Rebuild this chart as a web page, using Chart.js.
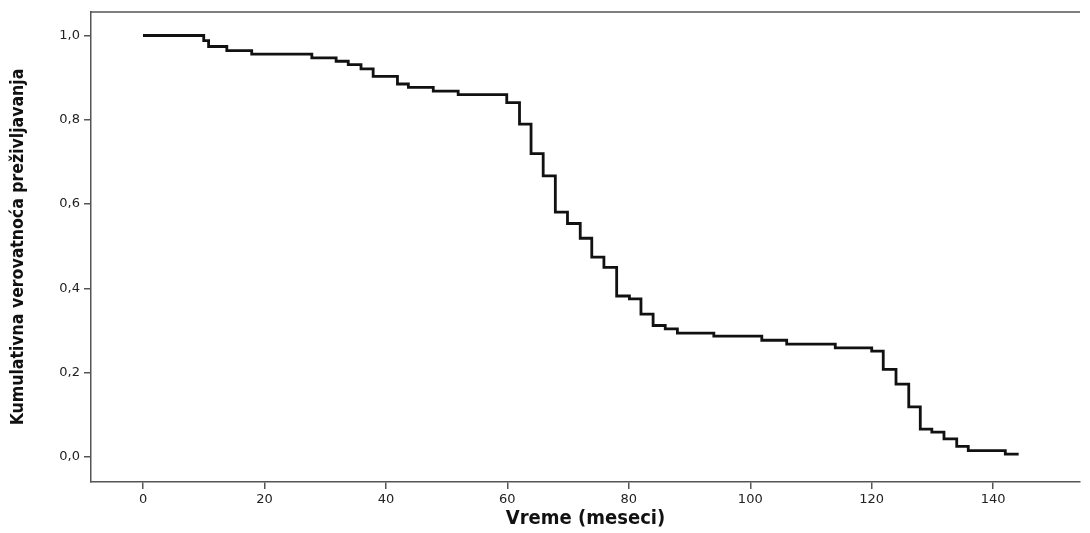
<!DOCTYPE html>
<html lang="sr">
<head>
<meta charset="UTF-8">
<title>Kaplan-Meier</title>
<script src="https://cdn.jsdelivr.net/npm/chart.js@4.4.0/dist/chart.umd.min.js"></script>
<style>
  html, body { margin: 0; padding: 0; background: #fff; }
  #wrap { width: 1090px; height: 533px; }
</style>
</head>
<body>
<div id="wrap"><canvas id="km"></canvas></div>
<script>
// vreme (meseci) kada kriva pada, i kumulativno prezivljavanje posle pada
const times = [0, 10.0, 10.8, 13.8, 17.9, 27.8, 31.8, 33.8, 35.9, 37.9, 41.9, 43.7, 47.8, 51.9,
  59.9, 62.0, 63.9, 65.9, 67.9, 69.9, 72.0, 73.9, 75.9, 78.0, 80.1, 82.0, 84.0, 86.0, 88.0,
  94.0, 101.9, 106.0, 114.0, 120.0, 121.9, 124.0, 126.1, 128.0, 129.9, 131.9, 134.0, 135.9, 142.0, 144.2];
const survival = [1.0, 0.988, 0.974, 0.964, 0.956, 0.947, 0.939, 0.931, 0.921, 0.903, 0.885, 0.877, 0.868, 0.860,
  0.841, 0.790, 0.720, 0.667, 0.581, 0.554, 0.519, 0.474, 0.450, 0.382, 0.375, 0.339, 0.312, 0.304, 0.294,
  0.287, 0.277, 0.268, 0.259, 0.251, 0.208, 0.173, 0.119, 0.066, 0.059, 0.043, 0.025, 0.015, 0.007, 0.007];
const xTicks = [0, 20, 40, 60, 80, 100, 120, 140];
const yTicks = [0, 0.2, 0.4, 0.6, 0.8, 1.0];

const points = times.map((t, i) => ({ x: t, y: survival[i] }));

// gornja linija okvira
const topBorder = {
  id: 'topBorder',
  afterDraw(chart) {
    const { ctx, chartArea } = chart;
    ctx.save();
    ctx.strokeStyle = '#555';
    ctx.lineWidth = 1.5;
    ctx.beginPath();
    ctx.moveTo(chartArea.left, chartArea.top);
    ctx.lineTo(chartArea.right, chartArea.top);
    ctx.stroke();
    ctx.restore();
  }
};

const tickFont = { family: 'DejaVu Sans, Liberation Sans, sans-serif', size: 13 };
const titleFamily = 'Liberation Sans Narrow, DejaVu Sans Condensed, sans-serif';

const ctx = document.getElementById('km').getContext('2d');
new Chart(ctx, {
  type: 'line',
  data: {
    datasets: [{
      data: points,
      stepped: true,
      borderColor: '#111',
      borderWidth: 2.8,
      pointRadius: 0,
      fill: false,
      tension: 0
    }]
  },
  options: {
    responsive: true,
    maintainAspectRatio: false,
    animation: false,
    layout: { padding: { top: 12, right: 10, left: 0, bottom: 0 } },
    plugins: { legend: { display: false }, tooltip: { enabled: false } },
    scales: {
      x: {
        type: 'linear',
        min: -8.565,
        max: 154.3,
        afterBuildTicks: s => { s.ticks = xTicks.map(v => ({ value: v })); },
        afterFit: s => { s.height = 51; },
        grid: { drawOnChartArea: false, tickLength: 7, color: '#555', lineWidth: 1.5 },
        border: { color: '#555', width: 1.5 },
        ticks: {
          color: '#222',
          padding: 3,
          maxRotation: 0,
          font: tickFont,
          callback: v => v
        },
        title: {
          display: true,
          text: 'Vreme (meseci)',
          color: '#111',
          padding: { top: 2, bottom: 2 },
          font: { family: titleFamily, size: 20, weight: 'bold' }
        }
      },
      y: {
        min: -0.0593,
        max: 1.0558,
        afterBuildTicks: s => { s.ticks = yTicks.map(v => ({ value: v })); },
        afterFit: s => { s.width = 91; },
        grid: { drawOnChartArea: false, tickLength: 7, color: '#555', lineWidth: 1.5 },
        border: { color: '#555', width: 1.5 },
        ticks: {
          color: '#222',
          padding: 4,
          font: tickFont,
          callback: v => v.toFixed(1).replace('.', ',')
        },
        title: {
          display: true,
          text: 'Kumulativna verovatnoća preživljavanja',
          color: '#111',
          padding: { top: 8, bottom: 4 },
          font: { family: titleFamily, size: 17.5, weight: 'bold' }
        }
      }
    }
  },
  plugins: [topBorder]
});
</script>
</body>
</html>
